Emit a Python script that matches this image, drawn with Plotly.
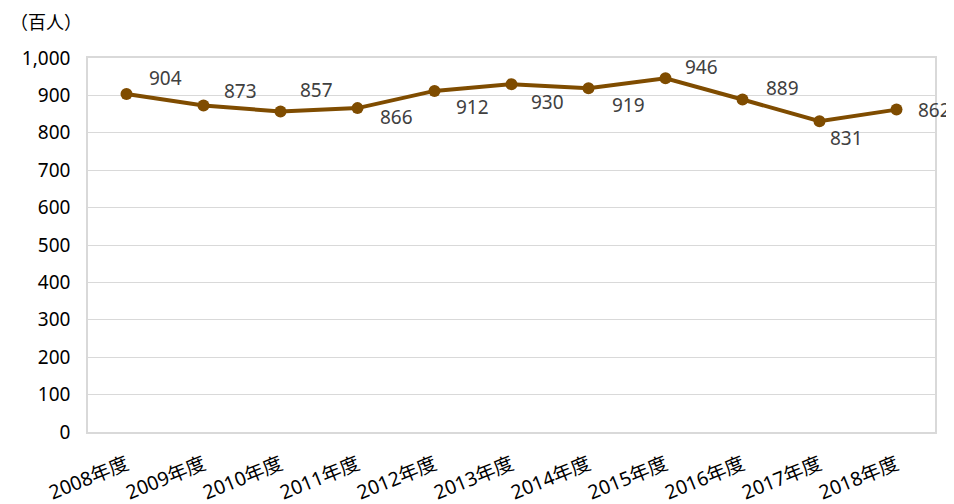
import plotly.graph_objects as go

categories = ["2008年度", "2009年度", "2010年度", "2011年度", "2012年度", "2013年度",
              "2014年度", "2015年度", "2016年度", "2017年度", "2018年度"]
values = [904, 873, 857, 866, 912, 930, 919, 946, 889, 831, 862]
y_ticks = list(range(0, 1001, 100))

# label placement offsets (pixels, styling only): (right, up)
label_offsets = [(39, 16), (37, 15), (36, 21), (39, -9), (38, -16), (36, -18),
                 (40, -17), (36, 11), (40, 12), (27, -17), (38, 0)]

LINE_COLOR = "#7F4C00"
GRID = "#D9D9D9"
FONT = "Noto Sans, Noto Sans CJK JP, sans-serif"

fig = go.Figure()
fig.add_trace(go.Scatter(
    x=categories, y=values, mode="lines+markers",
    line=dict(color=LINE_COLOR, width=4),
    marker=dict(color=LINE_COLOR, size=12),
    hoverinfo="x+y", showlegend=False,
))

for c, v, (dx, dy) in zip(categories, values, label_offsets):
    fig.add_annotation(x=c, y=v, text=f"{v:,}", showarrow=False,
                       xshift=dx, yshift=dy,
                       font=dict(family=FONT, size=19, color="#404040"))

fig.add_annotation(xref="paper", yref="paper", x=-0.0945, y=1.0, yshift=36,
                   xanchor="left", yanchor="middle", showarrow=False,
                   text="（百人）", font=dict(family=FONT, size=18, color="#000000"))

# page body has an 8px margin: figure is sized so it fills the 954x504 window
fig.update_layout(
    width=946, height=496,
    margin=dict(l=80, r=19, t=50, b=72, autoexpand=False),
    paper_bgcolor="white", plot_bgcolor="white",
    font=dict(family=FONT, size=19, color="#000000"),
)
fig.update_xaxes(
    type="category", range=[-0.5, len(categories) - 0.5], automargin=False,
    tickangle=-22, showgrid=False, showline=True, mirror=True,
    linecolor=GRID, linewidth=1.5, ticks="", ticklabelstandoff=12,
    tickfont=dict(family=FONT, size=19.5, color="#000000"),
)
fig.update_yaxes(
    range=[0, 1000], tickvals=y_ticks, tickformat=",", automargin=False,
    showgrid=True, gridcolor=GRID, gridwidth=1,
    showline=True, mirror=True, linecolor=GRID, linewidth=1.5,
    zeroline=False, ticks="", ticklabelstandoff=12,
    tickfont=dict(family=FONT, size=19, color="#000000"),
)

fig.write_html("out.html")
